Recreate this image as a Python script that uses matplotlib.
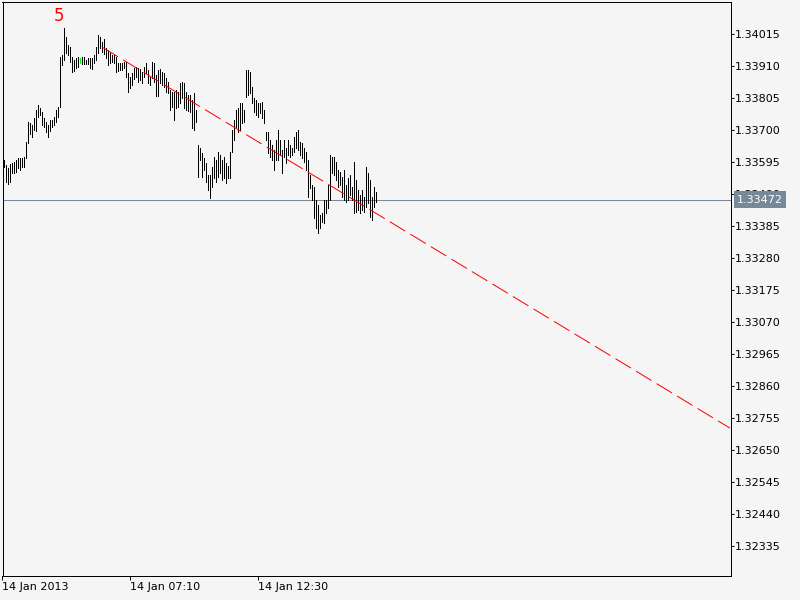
import matplotlib
matplotlib.use("Agg")
import matplotlib.pyplot as plt
from matplotlib.transforms import blended_transform_factory

# ---- data (EURUSD-like 5 minute bars) ----
highs = [
    1.33602, 1.33585, 1.33575, 1.33588, 1.33592, 1.33595, 1.33602, 1.33608, 1.33608, 1.33608,
    1.33611, 1.33661, 1.33726, 1.33723, 1.33716, 1.33739, 1.33766, 1.33782, 1.33772, 1.33759,
    1.33739, 1.33726, 1.33716, 1.33733, 1.33733, 1.33743, 1.33766, 1.33775, 1.33940, 1.33946,
    1.34035, 1.34005, 1.33979, 1.33972, 1.33940, 1.33930, 1.33936, 1.33940, 1.33936, 1.33940,
    1.33940, 1.33930, 1.33936, 1.33936, 1.33936, 1.33946, 1.33972, 1.34012, 1.34005, 1.33989,
    1.33999, 1.33969, 1.33963, 1.33956, 1.33946, 1.33946, 1.33940, 1.33920, 1.33920, 1.33920,
    1.33923, 1.33923, 1.33887, 1.33874, 1.33887, 1.33904, 1.33907, 1.33904, 1.33900, 1.33890,
    1.33907, 1.33920, 1.33897, 1.33874, 1.33923, 1.33920, 1.33880, 1.33897, 1.33900, 1.33890,
    1.33887, 1.33871, 1.33857, 1.33831, 1.33825, 1.33825, 1.33831, 1.33825, 1.33854, 1.33857,
    1.33854, 1.33825, 1.33815, 1.33815, 1.33798, 1.33821, 1.33766, 1.33651, 1.33641, 1.33625,
    1.33608, 1.33592, 1.33552, 1.33552, 1.33579, 1.33611, 1.33602, 1.33628, 1.33618, 1.33602,
    1.33611, 1.33592, 1.33582, 1.33628, 1.33700, 1.33733, 1.33766, 1.33772, 1.33789, 1.33789,
    1.33766, 1.33897, 1.33897, 1.33890, 1.33841, 1.33805, 1.33798, 1.33789, 1.33789, 1.33792,
    1.33766, 1.33693, 1.33693, 1.33667, 1.33651, 1.33634, 1.33667, 1.33700, 1.33667, 1.33634,
    1.33667, 1.33641, 1.33667, 1.33651, 1.33641, 1.33677, 1.33693, 1.33700, 1.33661, 1.33657,
    1.33641, 1.33628, 1.33602, 1.33552, 1.33520, 1.33513, 1.33470, 1.33454, 1.33421, 1.33428,
    1.33470, 1.33470, 1.33520, 1.33618, 1.33611, 1.33611, 1.33595, 1.33569, 1.33562, 1.33546,
    1.33569, 1.33520, 1.33543, 1.33552, 1.33513, 1.33595, 1.33536, 1.33503, 1.33487, 1.33503,
    1.33480, 1.33579, 1.33559, 1.33536, 1.33480, 1.33513, 1.33497,
]
lows = [
    1.33579, 1.33529, 1.33523, 1.33529, 1.33559, 1.33559, 1.33562, 1.33575, 1.33569, 1.33579,
    1.33579, 1.33608, 1.33657, 1.33687, 1.33677, 1.33700, 1.33697, 1.33743, 1.33749, 1.33716,
    1.33710, 1.33693, 1.33677, 1.33697, 1.33710, 1.33716, 1.33726, 1.33743, 1.33775, 1.33913,
    1.33930, 1.33953, 1.33946, 1.33923, 1.33890, 1.33894, 1.33904, 1.33907, 1.33920, 1.33917,
    1.33917, 1.33917, 1.33917, 1.33904, 1.33900, 1.33920, 1.33930, 1.33953, 1.33969, 1.33956,
    1.33949, 1.33936, 1.33913, 1.33920, 1.33923, 1.33920, 1.33890, 1.33894, 1.33897, 1.33897,
    1.33904, 1.33874, 1.33825, 1.33838, 1.33848, 1.33867, 1.33874, 1.33857, 1.33864, 1.33854,
    1.33874, 1.33887, 1.33854, 1.33848, 1.33871, 1.33857, 1.33812, 1.33812, 1.33854, 1.33848,
    1.33841, 1.33825, 1.33821, 1.33766, 1.33775, 1.33733, 1.33772, 1.33775, 1.33789, 1.33805,
    1.33772, 1.33766, 1.33762, 1.33759, 1.33707, 1.33700, 1.33726, 1.33546, 1.33602, 1.33546,
    1.33569, 1.33529, 1.33503, 1.33477, 1.33513, 1.33543, 1.33529, 1.33546, 1.33559, 1.33536,
    1.33543, 1.33526, 1.33543, 1.33543, 1.33628, 1.33667, 1.33710, 1.33693, 1.33700, 1.33723,
    1.33726, 1.33808, 1.33815, 1.33821, 1.33789, 1.33759, 1.33749, 1.33743, 1.33756, 1.33739,
    1.33723, 1.33667, 1.33625, 1.33611, 1.33602, 1.33569, 1.33602, 1.33602, 1.33618, 1.33559,
    1.33611, 1.33592, 1.33618, 1.33611, 1.33618, 1.33628, 1.33641, 1.33634, 1.33618, 1.33608,
    1.33595, 1.33569, 1.33480, 1.33510, 1.33470, 1.33411, 1.33378, 1.33362, 1.33378, 1.33398,
    1.33395, 1.33428, 1.33444, 1.33470, 1.33559, 1.33552, 1.33536, 1.33513, 1.33520, 1.33480,
    1.33470, 1.33464, 1.33470, 1.33487, 1.33470, 1.33428, 1.33431, 1.33438, 1.33428, 1.33438,
    1.33431, 1.33448, 1.33461, 1.33415, 1.33405, 1.33448, 1.33464,
]
green_bars = [38]
bid_price = 1.33472
trend_idx = [49.3, 363.0]
trend_price = [1.33971, 1.32722]
wave_label = "5"
wave_idx = 27.5
wave_price = 1.34073
y_ticks = [1.34015, 1.33910, 1.33805, 1.33700, 1.33595, 1.33490, 1.33385, 1.33280, 1.33175,
           1.33070, 1.32965, 1.32860, 1.32755, 1.32650, 1.32545, 1.32440, 1.32335]
x_tick_idx = [-0.75, 63, 127]
x_tick_labels = ["14 Jan 2013", "14 Jan 07:10", "14 Jan 12:30"]

BG = "#f5f5f5"
GREY = "#778899"
PX = 0.72  # one pixel in points at 100 dpi

plt.rcParams["font.family"] = ["DejaVu Sans"]
fig = plt.figure(figsize=(8, 6), dpi=100, facecolor=BG)
ax = fig.add_axes([2.5 / 800, 24 / 600, 728 / 800, 574 / 600], facecolor=BG)

idx = list(range(len(highs)))
colors = ["#00ff00" if i in green_bars else "black" for i in idx]
ax.vlines(idx, lows, highs, colors=colors, linewidth=PX, antialiaseds=False, zorder=3)

ax.axhline(bid_price, color=GREY, linewidth=PX, zorder=2)
ax.plot(trend_idx, trend_price, color="red", linewidth=PX, linestyle=(0, (18, 6)), zorder=4)

ax.text(wave_idx, wave_price, wave_label, color="red", fontsize=12, ha="center", va="center")

ax.set_xlim(-0.75, 363.25)
ax.set_ylim(1.32237, 1.34120)

ax.yaxis.tick_right()
ax.set_yticks(y_ticks)
ax.set_yticklabels([f"{v:.5f}" for v in y_ticks])
ax.tick_params(axis="y", direction="out", length=2.2, width=PX, pad=1, labelsize=8, colors="black")

ax.set_xticks(x_tick_idx)
ax.set_xticklabels(x_tick_labels, ha="left")
ax.tick_params(axis="x", direction="out", length=2.9, width=PX, pad=1.5, labelsize=8, colors="black")

for s in ax.spines.values():
    s.set_color("black")
    s.set_linewidth(PX)

trans = blended_transform_factory(ax.transAxes, ax.transData)
ax.text(1 + 6.5 / 728, bid_price, f"{bid_price:.5f}", transform=trans, color="white", fontsize=8,
        ha="left", va="center", clip_on=False, zorder=20,
        bbox=dict(boxstyle="square,pad=0.28", facecolor=GREY, edgecolor="none"))

fig.savefig("out.png", dpi=100, facecolor=BG)
